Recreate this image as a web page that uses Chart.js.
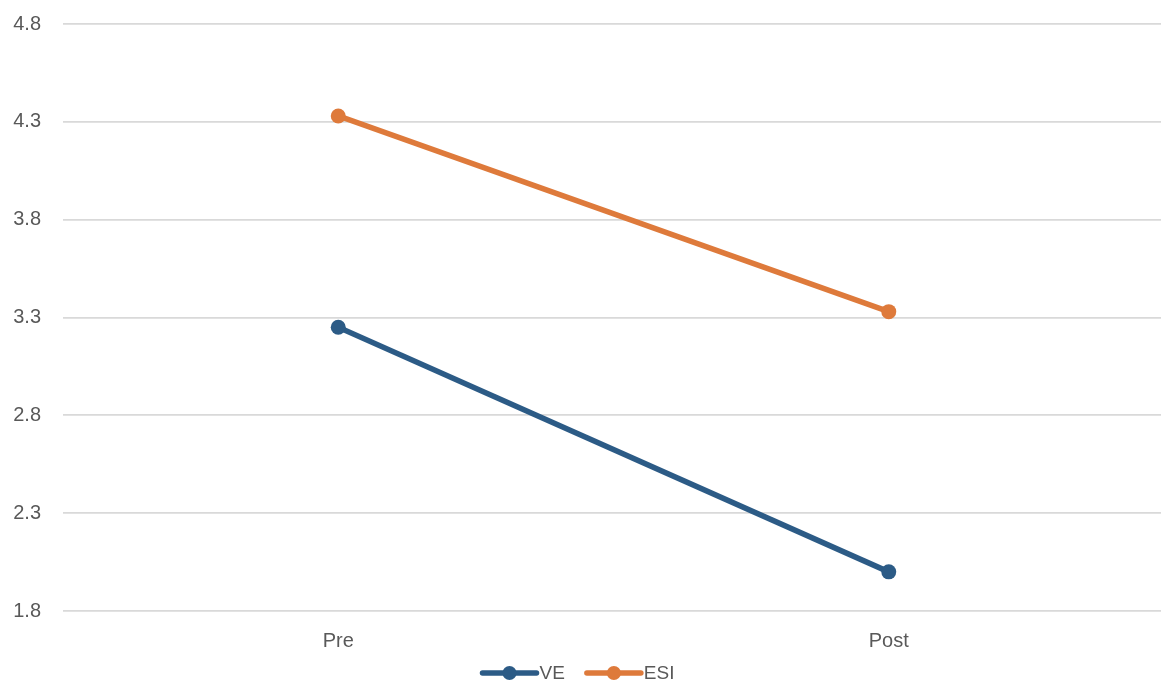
<!DOCTYPE html>
<html>
<head>
<meta charset="utf-8">
<script src="https://cdn.jsdelivr.net/npm/chart.js@4/dist/chart.umd.min.js"></script>
<style>
  html, body { margin: 0; padding: 0; background: #ffffff; overflow: hidden; }
  #wrap { width: 1161px; height: 684px; position: relative; overflow: hidden; }
  #c { display: block; }
</style>
</head>
<body>
<div id="wrap"><canvas id="c" width="1164" height="684"></canvas></div>
<script>
// Measurement occasions and mean scores per group
const categories = ['Pre', 'Post'];
const veValues = [3.25, 2.00];
const esiValues = [4.33, 3.33];
const seriesNames = ['VE', 'ESI'];
const yTicks = [1.8, 2.3, 2.8, 3.3, 3.8, 4.3, 4.8];

const colors = ['#2C5B86', '#DE7A3B'];
const labelColor = '#595959';
const fontFamily = '"Liberation Sans", Arial, sans-serif';

// Legend drawn below the plot: a short line with a dot through it, then the name
const lineLegend = {
  id: 'lineLegend',
  afterDraw(chart) {
    const ctx = chart.ctx;
    const y = 673;
    const items = chart.data.datasets.map(d => ({ label: d.label, color: d.borderColor }));
    ctx.save();
    ctx.font = '19px ' + fontFamily;
    const lineW = 54, gap = 3, itemGap = 22;
    const widths = items.map(it => lineW + gap + ctx.measureText(it.label).width);
    const total = widths.reduce((a, b) => a + b, 0) + itemGap * (items.length - 1);
    let x = (1161 - total) / 2 - 2;
    items.forEach((it, i) => {
      ctx.strokeStyle = it.color;
      ctx.lineWidth = 5.5;
      ctx.lineCap = 'round';
      ctx.beginPath();
      ctx.moveTo(x, y);
      ctx.lineTo(x + lineW, y);
      ctx.stroke();
      ctx.fillStyle = it.color;
      ctx.beginPath();
      ctx.arc(x + lineW / 2, y, 7, 0, Math.PI * 2);
      ctx.fill();
      ctx.fillStyle = labelColor;
      ctx.textBaseline = 'middle';
      ctx.textAlign = 'left';
      ctx.fillText(it.label, x + lineW + gap, y + 1);
      x += widths[i] + itemGap;
    });
    ctx.restore();
  }
};

new Chart(document.getElementById('c'), {
  type: 'line',
  data: {
    labels: categories,
    datasets: [
      {
        label: seriesNames[0],
        data: veValues,
        borderColor: colors[0],
        backgroundColor: colors[0],
        borderWidth: 5.5,
        pointRadius: 7.5,
        pointHoverRadius: 7.5,
        pointBorderWidth: 0,
        tension: 0
      },
      {
        label: seriesNames[1],
        data: esiValues,
        borderColor: colors[1],
        backgroundColor: colors[1],
        borderWidth: 5.5,
        pointRadius: 7.5,
        pointHoverRadius: 7.5,
        pointBorderWidth: 0,
        tension: 0
      }
    ]
  },
  options: {
    responsive: false,
    animation: false,
    devicePixelRatio: 1,
    layout: { autoPadding: false, padding: { top: 24, right: 0, bottom: 13, left: 0 } },
    plugins: {
      legend: { display: false },
      tooltip: { enabled: false }
    },
    scales: {
      x: {
        offset: true,
        grid: { display: false, drawTicks: false },
        border: { display: false },
        ticks: {
          color: labelColor,
          font: { family: fontFamily, size: 20 },
          padding: 18
        }
      },
      y: {
        min: yTicks[0],
        max: yTicks[yTicks.length - 1],
        afterBuildTicks(axis) {
          axis.ticks = yTicks.map(v => ({ value: v }));
        },
        afterFit(axis) {
          axis.width = 63;
        },
        grid: { color: '#d9d9d9', lineWidth: 1.8, drawTicks: false },
        border: { display: false },
        ticks: {
          color: labelColor,
          font: { family: fontFamily, size: 20, lineHeight: 0.2 },
          padding: 22,
          callback: v => Number(v).toFixed(1)
        }
      }
    }
  },
  plugins: [lineLegend]
});
</script>
</body>
</html>
